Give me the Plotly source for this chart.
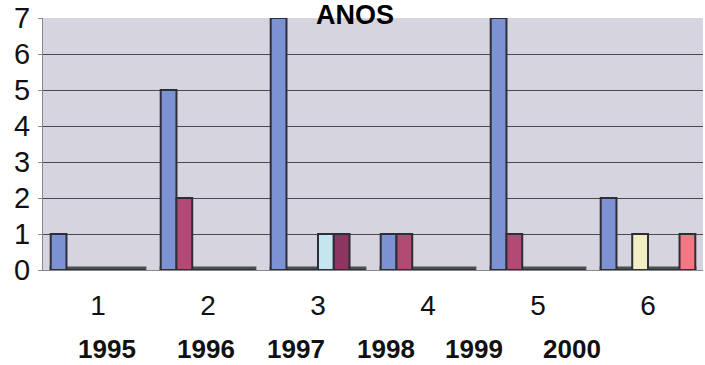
import plotly.graph_objects as go

categories = ["1", "2", "3", "4", "5", "6"]
years = ["1995", "1996", "1997", "1998", "1999", "2000"]
serie1 = [1, 5, 7, 1, 7, 2]
serie2 = [0, 2, 0, 1, 1, 0]
serie3 = [0, 0, 0, 0, 0, 1]
serie4 = [0, 0, 1, 0, 0, 0]
serie5 = [0, 0, 1, 0, 0, 0]
serie6 = [0, 0, 0, 0, 0, 1]
series = [serie1, serie2, serie3, serie4, serie5, serie6]
colors = ["#7C92D2", "#B24A74", "#F2EEC4", "#C4E6EE", "#8E3460", "#F27884"]
y_ticks = [0, 1, 2, 3, 4, 5, 6, 7]

fig = go.Figure()
for i, (vals, col) in enumerate(zip(series, colors)):
    fig.add_trace(go.Bar(
        x=categories, y=vals, name=f"S{i+1}",
        marker=dict(color=col, line=dict(color="#2e2e38", width=2)),
    ))

shapes = []
for k in range(len(categories)):
    shapes.append(dict(type="rect", xref="x", yref="y", x0=k - 0.44, x1=k + 0.44,
                       y0=0, y1=0.1, fillcolor="#4a5050", line=dict(width=0), layer="below"))

annotations = [dict(text="<b>ANOS</b>", xref="paper", yref="paper", x=(355 - 43) / 660, y=1,
                    yshift=3, xanchor="center", yanchor="middle", showarrow=False,
                    font=dict(size=27, color="black", family="Liberation Sans, Arial"))]
year_x = [107, 206, 296, 386, 474, 572]
for yr, px in zip(years, year_x):
    annotations.append(dict(text=f"<b>{yr}</b>", xref="paper", yref="paper",
                            x=(px - 43) / 660, y=0, yshift=-79, xanchor="center",
                            yanchor="middle", showarrow=False,
                            font=dict(size=26, color="#111", family="Liberation Sans, Arial")))

fig.update_layout(
    width=705, height=365,
    margin=dict(l=43, r=2, t=18, b=95, autoexpand=False),
    paper_bgcolor="white", plot_bgcolor="#D6D4DE",
    barmode="group", bargap=0.14, bargroupgap=0,
    showlegend=False,
    shapes=shapes, annotations=annotations,
    font=dict(family="Liberation Sans, Arial", color="#111"),
)
fig.update_xaxes(type="category", tickfont=dict(size=28), ticklabelstandoff=10, automargin=False,
                 showgrid=False, showline=True, linecolor="#888", ticks="")
fig.update_yaxes(range=[0, 7], tickvals=y_ticks, tickfont=dict(size=29), ticklabelstandoff=2,
                 automargin=False,
                 showgrid=True, gridcolor="#4a4a4a", gridwidth=1, zeroline=False,
                 showline=True, linecolor="#888", ticks="outside", ticklen=4, tickcolor="#888")

fig.write_html("out.html", config={"displayModeBar": False},
               post_script="document.body.style.margin='0px';document.body.style.overflow='hidden';")
